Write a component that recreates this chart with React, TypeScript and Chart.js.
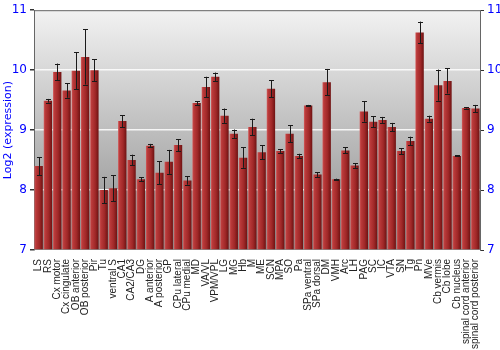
import React, { useEffect, useRef } from "react";
import { Chart, registerables } from "chart.js";

Chart.register(...registerables);

const regions = [
  "LS", "RS", "Cx motor", "Cx cingulate", "OB anterior", "OB posterior", "Pir", "Tu",
  "ventral S", "CA1", "CA2/CA3", "DG", "A anterior", "A posterior", "GP", "CPu lateral",
  "CPu medial", "MD", "VA/VL", "VPM/VPL", "LG", "MG", "Hb", "M", "ME", "SCN", "MPA", "SO",
  "Pa", "SPa ventral", "SPa dorsal", "DM", "VMH", "Arc", "LH", "PAG", "SC", "IC", "VTA",
  "SN", "Tg", "Pn", "MVe", "Cb vermis", "Cb lobe", "Cb nucleus", "spinal cord anterior",
  "spinal cord posterior",
];

const expression = [
  8.40, 9.49, 9.97, 9.66, 9.99, 10.22, 10.0, 8.0,
  8.03, 9.15, 8.50, 8.18, 8.74, 8.29, 8.47, 8.75,
  8.16, 9.45, 9.72, 9.89, 9.24, 8.94, 8.54, 9.05, 8.63, 9.69, 8.65, 8.94,
  8.57, 9.41, 8.26, 9.80, 8.18, 8.66, 8.41, 9.31, 9.14, 9.17, 9.05,
  8.65, 8.82, 10.63, 9.19, 9.75, 9.82, 8.57, 9.37,
  9.36,
];

const errors = [
  0.15, 0.03, 0.14, 0.12, 0.31, 0.46, 0.18, 0.22,
  0.22, 0.10, 0.09, 0.035, 0.03, 0.19, 0.20, 0.10,
  0.07, 0.03, 0.17, 0.07, 0.12, 0.07, 0.17, 0.14, 0.12, 0.14, 0.03, 0.14,
  0.035, 0.01, 0.04, 0.22, 0.01, 0.05, 0.04, 0.17, 0.09, 0.05, 0.07,
  0.05, 0.07, 0.18, 0.05, 0.26, 0.21, 0.01, 0.01,
  0.06,
];

const yTicks = [7, 8, 9, 10, 11];

const bgPlugin = {
  id: "bgGradient",
  beforeDraw(chart: any) {
    const { ctx, chartArea } = chart;
    if (!chartArea) return;
    const g = ctx.createLinearGradient(0, chartArea.top, 0, chartArea.bottom);
    g.addColorStop(0, "#f2f2f2");
    g.addColorStop(1, "#8a8a8a");
    ctx.save();
    ctx.fillStyle = g;
    ctx.fillRect(chartArea.left, chartArea.top, chartArea.right - chartArea.left, chartArea.bottom - chartArea.top);
    ctx.restore();
  },
  afterDraw(chart: any) {
    const { ctx, chartArea } = chart;
    ctx.save();
    ctx.strokeStyle = "#666666";
    ctx.lineWidth = 1;
    ctx.beginPath();
    ctx.moveTo(chartArea.left, chartArea.top + 0.5);
    ctx.lineTo(chartArea.right, chartArea.top + 0.5);
    ctx.stroke();
    ctx.restore();
  },
};

const errorPlugin = {
  id: "errorBars",
  afterDatasetsDraw(chart: any) {
    const { ctx } = chart;
    const y = chart.scales.y;
    const meta = chart.getDatasetMeta(0);
    ctx.save();
    ctx.strokeStyle = "#1a1a1a";
    ctx.lineWidth = 1;
    meta.data.forEach((bar: any, i: number) => {
      const v = expression[i];
      const e = errors[i];
      const x = Math.round(bar.x) + 0.5;
      const top = y.getPixelForValue(v + e);
      const bot = y.getPixelForValue(v - e);
      ctx.beginPath();
      ctx.moveTo(x, top);
      ctx.lineTo(x, bot);
      ctx.moveTo(x - 2.5, Math.round(top) + 0.5);
      ctx.lineTo(x + 2.5, Math.round(top) + 0.5);
      ctx.moveTo(x - 2.5, Math.round(bot) + 0.5);
      ctx.lineTo(x + 2.5, Math.round(bot) + 0.5);
      ctx.stroke();
    });
    ctx.restore();
  },
};

function barColor(c: any) {
  const chart = c.chart;
  const xs = chart.scales && chart.scales.x;
  if (!xs || !chart.chartArea || c.dataIndex === undefined) return "#a52a2a";
  const cx = xs.getPixelForValue(c.dataIndex);
  const w = (xs.width / regions.length) * 0.9;
  const g = chart.ctx.createLinearGradient(cx - w / 2, 0, cx + w / 2, 0);
  g.addColorStop(0, "#d46060");
  g.addColorStop(0.15, "#bb3b3b");
  g.addColorStop(0.6, "#a02828");
  g.addColorStop(1, "#6e1212");
  return g;
}

const tickFont = { family: "'DejaVu Sans', sans-serif", size: 12 };
const titleFont = { family: "'DejaVu Sans', sans-serif", size: 11 };

export default function App() {
  const ref = useRef<HTMLCanvasElement>(null);
  useEffect(() => {
    document.body.style.margin = "0";
    const chart = new Chart(ref.current as HTMLCanvasElement, {
      type: "bar",
      data: {
        labels: regions,
        datasets: [
          {
            data: expression,
            backgroundColor: barColor as any,
            borderWidth: 0,
            barPercentage: 0.9,
            categoryPercentage: 1,
            base: 7,
          },
        ],
      },
      options: {
        responsive: false,
        animation: false,
        layout: { padding: { top: 0, right: 0, bottom: 0, left: 0 } },
        plugins: { legend: { display: false }, tooltip: { enabled: false } },
        scales: {
          x: {
            grid: { display: false },
            border: { display: false },
            afterFit: (s: any) => {
              s.height = 100;
            },
            ticks: {
              autoSkip: false,
              maxRotation: 90,
              minRotation: 90,
              color: "#222",
              padding: 1,
              font: { family: "'Liberation Sans', Arial, sans-serif", size: 10 },
            },
          },
          y: {
            position: "left",
            min: 7,
            max: 11,
            afterBuildTicks: (s: any) => {
              s.ticks = yTicks.map((v) => ({ value: v }));
            },
            afterFit: (s: any) => {
              s.width = 34;
            },
            grid: {
              color: (c: any) => (c.tick && c.tick.value > 7 && c.tick.value < 11 ? "rgba(255,255,255,0.85)" : "rgba(0,0,0,0)"),
              lineWidth: 1.5,
              tickColor: "#333",
              tickLength: 4,
            },
            border: { display: true, color: "#666" },
            ticks: { color: "#0000ff", font: tickFont, padding: 3 },
            title: {
              display: true,
              text: "Log2 (expression)",
              color: "#0000ff",
              font: titleFont,
              padding: { top: 2, bottom: 0 },
            },
          },
          y2: {
            position: "right",
            min: 7,
            max: 11,
            afterBuildTicks: (s: any) => {
              s.ticks = yTicks.map((v) => ({ value: v }));
            },
            afterFit: (s: any) => {
              s.width = 20;
            },
            grid: { drawOnChartArea: false, tickColor: "#333", tickLength: 4 },
            border: { display: true, color: "#666" },
            ticks: { color: "#0000ff", font: tickFont, padding: 3 },
          },
        },
      },
      plugins: [bgPlugin, errorPlugin],
    });
    return () => chart.destroy();
  }, []);
  return (
    <div style={{ width: 500, height: 350 }}>
      <canvas ref={ref} width={500} height={350} />
    </div>
  );
}
